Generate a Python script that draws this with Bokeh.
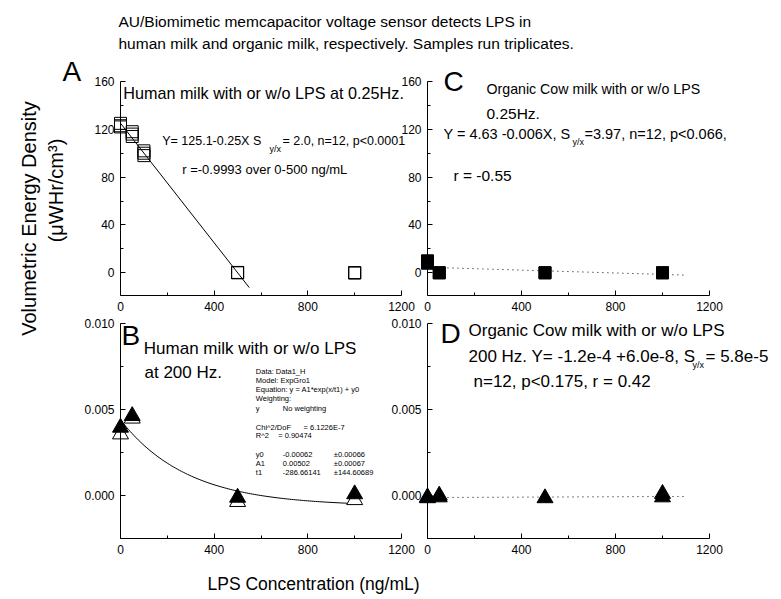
import numpy as np
from bokeh.plotting import figure
from bokeh.models import Range1d, FixedTicker, NumeralTickFormatter, LinearAxis
from bokeh.core.properties import value
from bokeh.embed import file_html
from bokeh.resources import INLINE

FONT = "Liberation Sans"

# ---------------- data ----------------
# Panel A: human milk, 0.25 Hz (open squares, triplicates)
A_x = [0, 0, 0, 50, 50, 50, 100, 100, 100, 500, 500, 500, 1000, 1000, 1000]
A_y = [125, 122, 123, 118, 114, 116, 102, 98, 100, 0.3, 0, 0.2, 0, 0, 0]
A_fit_intercept = 125.1
A_fit_slope = -0.25
A_fit_x = [0, 550]

# Panel C: organic cow milk, 0.25 Hz (filled squares)
C_x = [0, 0, 50, 50, 500, 500, 1000, 1000]
C_y = [10, 8, 0, 0, 0, 0, 0, 0]
C_fit_intercept = 4.63
C_fit_slope = -0.006
C_fit_x = [0, 1100]

# Panel B: human milk, 200 Hz (two replicate sets of triangles)
B_x = [0, 50, 500, 1000]
B_y_open = [0.00356, 0.00448, -0.00037, -0.00026]
B_y_filled = [0.00395, 0.00463, -0.00012, 0.00008]
B_y0 = -0.00062
B_A1 = 0.00502
B_t1 = -286.66141
B_fit_x = np.linspace(0, 1000, 120)

# Panel D: organic cow milk, 200 Hz (filled triangles)
D_x = [0, 0, 50, 50, 500, 1000, 1000]
D_y = [-0.00015, -0.0001, -0.0001, 0.0, -0.00015, -0.0001, 0.0001]
D_fit_intercept = -1.2e-4
D_fit_slope = 6.0e-8
D_fit_x = [0, 1100]

x_lim = (0, 1200)
x_ticks = [0, 400, 800, 1200]
x_minor = [200, 600, 1000]
top_y_lim = (-19, 160)
top_y_ticks = [0, 40, 80, 120, 160]
top_y_minor = [20, 60, 100, 140]
bot_y_lim = (-0.0025, 0.010)
bot_y_ticks = [0.0, 0.005, 0.010]
bot_y_minor = [-0.0025, 0.0025, 0.0075]

W, H = 781, 599

p = figure(width=W, height=H, x_range=Range1d(0, W), y_range=Range1d(H, 0),
           x_axis_type=None, y_axis_type=None,
           min_border=0, min_border_left=0, min_border_right=0,
           min_border_top=0, min_border_bottom=0,
           output_backend="svg", toolbar_location=None,
           background_fill_color="white", border_fill_color="white",
           outline_line_color=None)


def add_panel(name, px_left, px_right, px_top, px_bottom, xlim, ylim, yticks, yminor, yfmt=None):
    # map data limits to the panel's pixel box through the library's ranges
    sx = (xlim[1] - xlim[0]) / (px_right - px_left)
    sy = (ylim[1] - ylim[0]) / (px_bottom - px_top)
    xr = Range1d(xlim[0] - px_left * sx, xlim[0] + (W - px_left) * sx)
    yr = Range1d(ylim[0] - (H - px_bottom) * sy, ylim[1] + px_top * sy)
    p.extra_x_ranges[name] = xr
    p.extra_y_ranges[name] = yr
    xa = LinearAxis(x_range_name=name, y_range_name=name, fixed_location=ylim[0],
                    bounds=xlim, ticker=FixedTicker(ticks=x_ticks, minor_ticks=x_minor))
    ya = LinearAxis(x_range_name=name, y_range_name=name, fixed_location=xlim[0],
                    bounds=ylim, ticker=FixedTicker(ticks=yticks, minor_ticks=yminor))
    if yfmt:
        ya.formatter = NumeralTickFormatter(format=yfmt)
    for ax in (xa, ya):
        ax.axis_line_color = "black"
        ax.major_tick_line_color = "black"
        ax.minor_tick_line_color = "black"
        ax.major_tick_in = 5
        ax.major_tick_out = 0
        ax.minor_tick_in = 3
        ax.minor_tick_out = 0
        ax.major_label_standoff = 6
        ax.major_label_text_font = FONT
        ax.major_label_text_font_size = "12px"
        ax.major_label_text_color = "black"
    p.add_layout(xa, "below")
    p.add_layout(ya, "left")


add_panel("A", 120, 401, 81, 295, x_lim, top_y_lim, top_y_ticks, top_y_minor)
add_panel("C", 427, 709, 81, 295, x_lim, top_y_lim, top_y_ticks, top_y_minor)
add_panel("B", 120, 401, 323, 538, x_lim, bot_y_lim, bot_y_ticks, bot_y_minor, "0.000")
add_panel("D", 427, 709, 323, 538, x_lim, bot_y_lim, bot_y_ticks, bot_y_minor, "0.000")


def txt(x, y, s, size, align="left", angle=0.0):
    p.text(x=[x], y=[y], text=[s], text_font=value(FONT), text_font_size=f"{size}px",
           text_align=align, text_baseline="middle", angle=angle, text_color="black")


txt(118, 21, "AU/Biomimetic memcapacitor voltage sensor detects LPS in", 15.5)
txt(118, 43, "human milk and organic milk, respectively. Samples run triplicates.", 15.5)

# axis titles
txt(28, 218, "Volumetric Energy Density", 20, align="center", angle=np.pi / 2)
txt(55, 190, "(\u03bcWHr/cm\u00b3)", 20, align="center", angle=np.pi / 2)
txt(207, 583, "LPS Concentration (ng/mL)", 17.5)

# panel letters
txt(62, 71, "A", 28)
txt(121, 335, "B", 28)
txt(443, 81, "C", 28)
txt(440, 333, "D", 28)

# panel A texts
txt(122.7, 92, "Human milk with or w/o LPS at 0.25Hz.", 16.2)
txt(161.7, 140, "Y= 125.1-0.25X S", 12.5)
txt(269, 148, "y/x", 9)
txt(282, 140, "= 2.0, n=12, p<0.0001", 12.5)
txt(181.7, 169, "r =-0.9993 over  0-500 ng/mL", 13)

# panel C texts
txt(486, 88, "Organic Cow milk with or w/o LPS", 14.2)
txt(486, 113, "0.25Hz.", 15.5)
txt(443, 133, "Y = 4.63 -0.006X, S", 14.5)
txt(572, 141, "y/x", 9)
txt(584, 133, "=3.97, n=12, p<0.066,", 14.5)
txt(453, 175, "r = -0.55", 15.5)

# panel B texts
txt(143.3, 348, "Human milk with or w/o LPS", 17)
txt(144, 372, "at 200 Hz.", 17)
small = [
    (255.3, 371, "Data: Data1_H"),
    (255.3, 380, "Model: ExpGro1"),
    (255.3, 389.3, "Equation: y = A1*exp(x/t1) + y0"),
    (255.3, 398.3, "Weighting:"),
    (255.3, 407.7, "y"), (282.3, 407.7, "No weighting"),
    (255.3, 426.7, "Chi^2/DoF"), (303, 426.7, "= 6.1226E-7"),
    (255.3, 435, "R^2"), (277.7, 435, "=  0.90474"),
    (255.3, 454.3, "y0"), (282.3, 454.3, "-0.00062"), (333.3, 454.3, "\u00b10.00066"),
    (255.3, 462.7, "A1"), (282.3, 462.7, "0.00502"), (333.3, 462.7, "\u00b10.00067"),
    (255.3, 471.7, "t1"), (282.3, 471.7, "-286.66141"), (333.3, 471.7, "\u00b1144.60689"),
]
for sx, sy, s in small:
    txt(sx, sy, s, 7.5)

# panel D texts
txt(468, 330, "Organic Cow milk with or w/o LPS", 17)
txt(468, 355.5, "200 Hz. Y= -1.2e-4 +6.0e-8, S", 17)
txt(692, 364, "y/x", 9)
txt(705, 355.5, "= 5.8e-5", 17)
txt(473, 381, "n=12, p<0.175, r = 0.42", 17)

# ---------------- marks ----------------
p.line(A_fit_x, [A_fit_intercept + A_fit_slope * v for v in A_fit_x], line_color="black",
       line_width=1, x_range_name="A", y_range_name="A")
p.scatter(A_x, A_y, marker="square", size=12, fill_color=None, line_color="black",
          line_width=1, x_range_name="A", y_range_name="A")

p.line(C_fit_x, [C_fit_intercept + C_fit_slope * v for v in C_fit_x], line_color="black",
       line_width=1, line_dash="1 4", x_range_name="C", y_range_name="C")
p.scatter(C_x, C_y, marker="square", size=12, fill_color="black", line_color="black",
          x_range_name="C", y_range_name="C")

p.line(B_fit_x, B_A1 * np.exp(B_fit_x / B_t1) + B_y0, line_color="black", line_width=1,
       x_range_name="B", y_range_name="B")
p.scatter(B_x, B_y_open, marker="triangle", size=16, fill_color="white", line_color="black",
          line_width=1, x_range_name="B", y_range_name="B")
p.scatter(B_x, B_y_filled, marker="triangle", size=16, fill_color="black", line_color="black",
          x_range_name="B", y_range_name="B")

p.line(D_fit_x, [D_fit_intercept + D_fit_slope * v for v in D_fit_x], line_color="black",
       line_width=1, line_dash="1 4", x_range_name="D", y_range_name="D")
p.scatter(D_x, D_y, marker="triangle", size=16, fill_color="black", line_color="black",
          x_range_name="D", y_range_name="D")

open("out.html", "w").write(file_html(p, INLINE))
